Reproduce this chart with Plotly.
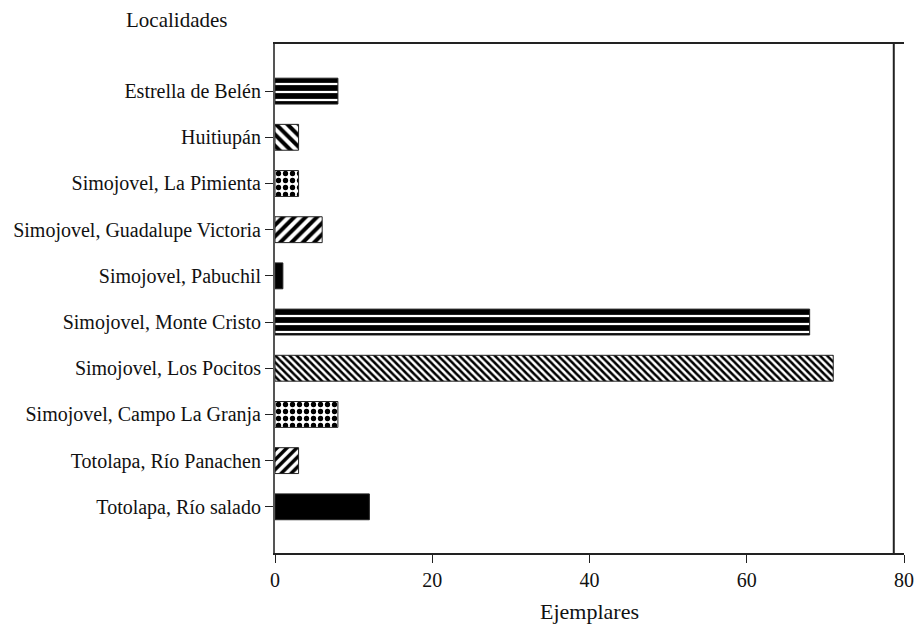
import plotly.graph_objects as go

localidades = [
    "Totolapa, Río salado",
    "Totolapa, Río Panachen",
    "Simojovel, Campo La Granja",
    "Simojovel, Los Pocitos",
    "Simojovel, Monte Cristo",
    "Simojovel, Pabuchil",
    "Simojovel, Guadalupe Victoria",
    "Simojovel, La Pimienta",
    "Huitiupán",
    "Estrella de Belén",
]
ejemplares = [12, 3, 8, 71, 68, 1, 6, 3, 3, 8]
x_ticks = [0, 20, 40, 60, 80]

shapes_pat = ["", "/", ".", "\\", "-", "", "/", ".", "\\", "-"]
sizes_pat = [8, 7, 7, 5, 8, 8, 8, 7, 8, 8]
solid_pat = [0.5, 0.5, 0.45, 0.5, 0.72, 0.5, 0.5, 0.45, 0.5, 0.72]

FONT = "Liberation Serif, Times New Roman, serif"

fig = go.Figure()
fig.add_trace(go.Bar(
    y=localidades,
    x=ejemplares,
    orientation="h",
    width=0.56,
    marker=dict(
        color="black",
        line=dict(color="#222", width=1),
        pattern=dict(shape=shapes_pat, size=sizes_pat, solidity=solid_pat,
                     fgcolor="black", bgcolor="white", fillmode="replace"),
    ),
    showlegend=False,
))

fig.update_layout(
    width=923, height=639,
    margin=dict(l=275, r=9, t=44, b=86),
    paper_bgcolor="white", plot_bgcolor="white",
    font=dict(family=FONT, size=20, color="#111"),
    xaxis=dict(
        range=[0, 80], tickvals=x_ticks, ticks="outside", ticklen=8,
        tickcolor="#222", showline=True, linecolor="#222", linewidth=2,
        mirror=True, showgrid=False, zeroline=False, ticklabeloverflow="allow",
        title=dict(text="Ejemplares", standoff=14, font=dict(size=22)),
        tickfont=dict(size=20),
    ),
    yaxis=dict(
        type="category", categoryorder="array", categoryarray=localidades,
        range=[-1, 10.02], ticks="outside", ticklen=8, tickcolor="#222",
        showline=True, linecolor="#555", linewidth=2, showgrid=False,
        zeroline=False, tickfont=dict(size=20),
    ),
    annotations=[dict(
        text="Localidades", xref="paper", yref="paper", x=-0.157, y=1.0,
        yshift=24, xanchor="center", yanchor="middle", showarrow=False,
        font=dict(size=21, family=FONT),
    )],
    shapes=[dict(
        type="line", xref="x", yref="paper", x0=78.7, x1=78.7, y0=0, y1=1,
        line=dict(color="#222", width=2),
    )],
)

fig.write_html("out.html")
